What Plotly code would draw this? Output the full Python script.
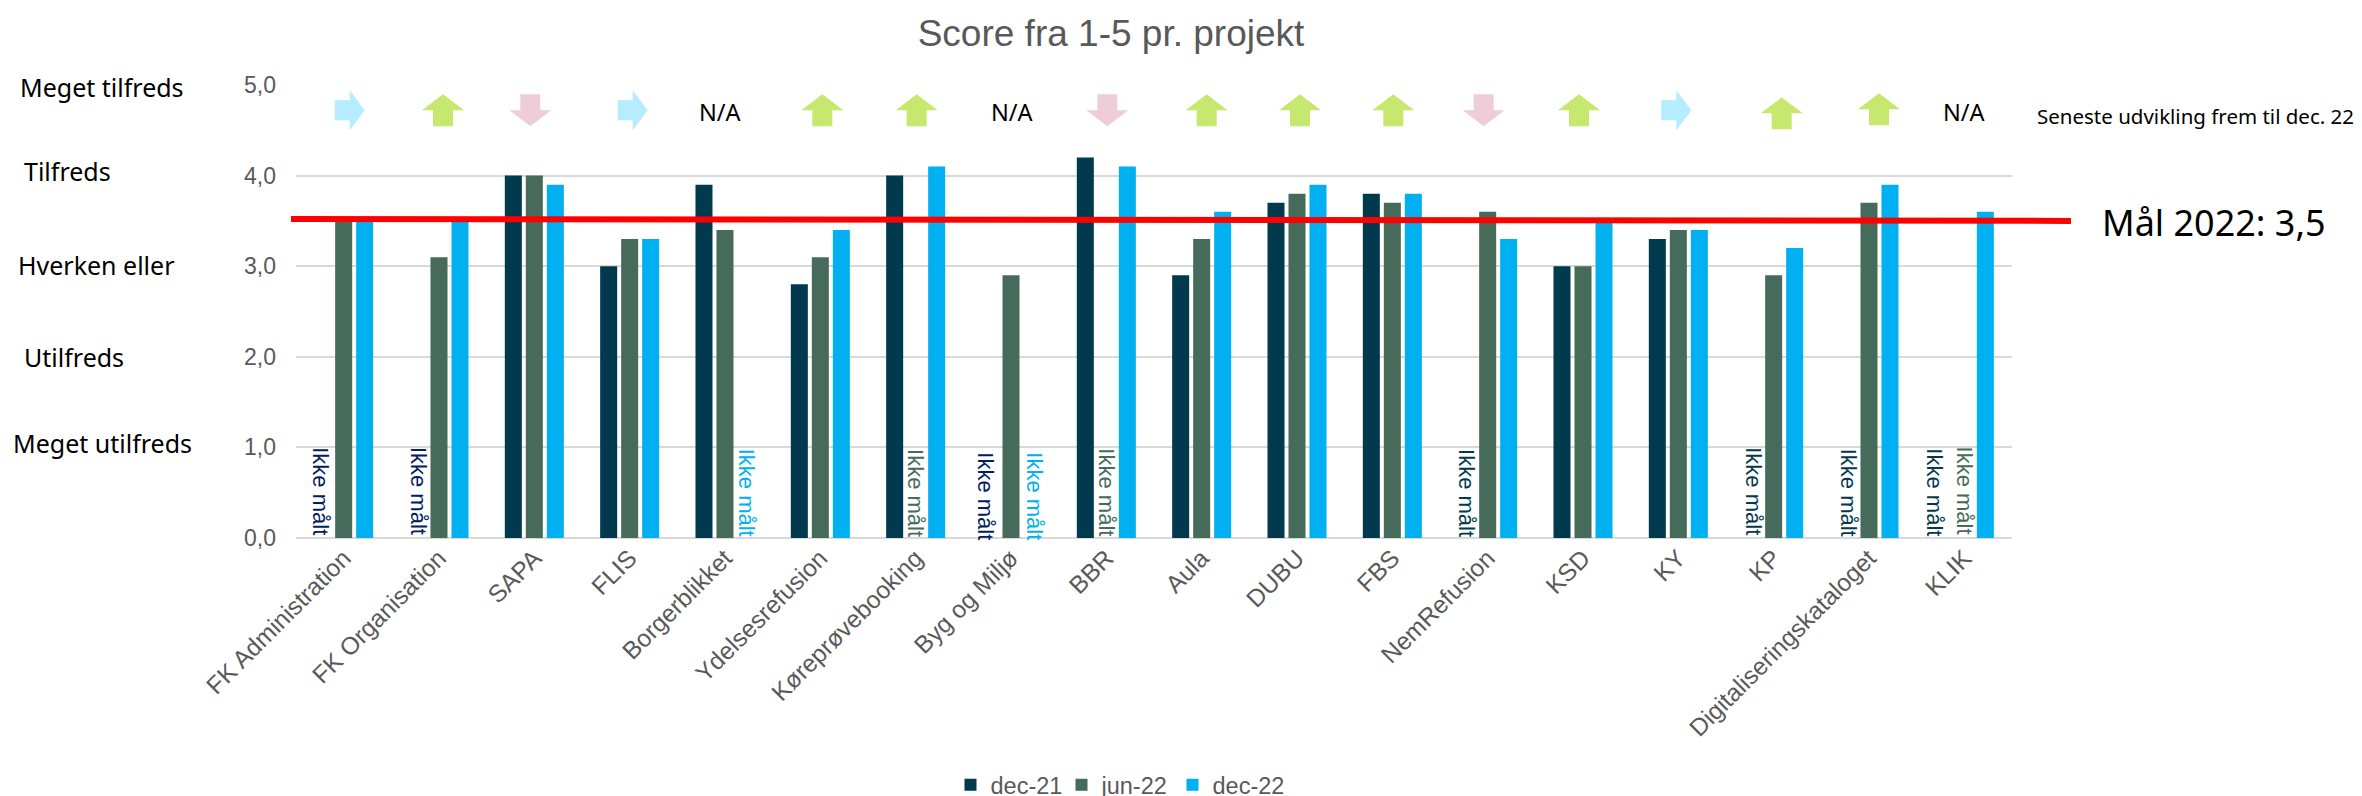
import plotly.graph_objects as go

categories = ["FK Administration", "FK Organisation", "SAPA", "FLIS", "Borgerblikket", "Ydelsesrefusion",
              "Køreprøvebooking", "Byg og Miljø", "BBR", "Aula", "DUBU", "FBS", "NemRefusion", "KSD", "KY", "KP",
              "Digitaliseringskataloget", "KLIK"]
series_names = ["dec-21", "jun-22", "dec-22"]
dec21 = [None, None, 4.0, 3.0, 3.9, 2.8, 4.0, None, 4.2, 2.9, 3.7, 3.8, None, 3.0, 3.3, None, None, None]
jun22 = [3.5, 3.1, 4.0, 3.3, 3.4, 3.1, None, 2.9, None, 3.3, 3.8, 3.7, 3.6, 3.0, 3.4, 2.9, 3.7, None]
dec22 = [3.5, 3.5, 3.9, 3.3, None, 3.4, 4.1, None, 4.1, 3.6, 3.9, 3.8, 3.3, 3.5, 3.4, 3.2, 3.9, 3.6]
trend = ["right", "up", "down", "right", "N/A", "up", "up", "N/A", "down", "up", "up", "up", "down", "up", "right",
         "up", "up", "N/A"]
trend_dx = [6, 4, -4, 3, -5, 2, 1, 1, 1, 5, 3, 1, -4, -4, -2, 8, 10, 0]
trend_dy = [0, 0, 0, 0, 0, 0, 0, 0, 0, 0, 0, 0, 0, 0, 0, -3, 1, 0]
target = 3.5
target_label = "Mål 2022: 3,5"
scale_labels = ["Meget tilfreds", "Tilfreds", "Hverken eller", "Utilfreds", "Meget utilfreds"]
scale_pos = [(18, 87), (22, 171), (16, 265), (22, 357), (11, 443)]
not_measured = [("FK Administration", -1, "#002060", -3, 0.52), ("FK Organisation", -1, "#002060", 0, 0.52),
                ("Borgerblikket", 1, "#00B0F0", 0, 0.5), ("Køreprøvebooking", 0, "#466B5A", 0, 0.5),
                ("Byg og Miljø", -1, "#002060", -4, 0.46), ("Byg og Miljø", 1, "#00B0F0", 3, 0.46),
                ("BBR", 0, "#466B5A", 0, 0.5), ("NemRefusion", -1, "#013A4E", 0, 0.5),
                ("KP", -1, "#013A4E", 0, 0.52), ("Digitaliseringskataloget", -1, "#013A4E", 0, 0.5),
                ("KLIK", -1, "#013A4E", -9, 0.5), ("KLIK", 0, "#466B5A", 0, 0.52)]

W, H = 2362, 796
L, R, T, B = 296, 2012, 85, 538
GREY = "#595959"
COLORS = ["#013A4E", "#466B5A", "#00B0F0"]
TEXT_FONT = "Noto Sans"
ARROWS = {
    "up": ([(0, 16), (21, 0), (10, 0), (10, -16), (-10, -16), (-10, 0), (-21, 0)], "#C6E86E"),
    "down": ([(0, -16), (21, 0), (10, 0), (10, 16), (-10, 16), (-10, 0), (-21, 0)], "#EFCDD8"),
    "right": ([(15, 0), (0, 20), (0, 10), (-15, 10), (-15, -10), (0, -10), (0, -20)], "#B5ECFF"),
}

px = lambda x: (x - L) / (R - L)
py = lambda y: (B - y) / (B - T)

fig = go.Figure()
for name, vals, col in zip(series_names, [dec21, jun22, dec22], COLORS):
    fig.add_trace(go.Bar(name=name, x=categories, y=vals, marker_color=col, marker_line_width=0))

ann = []
for i, (txt, (x, y)) in enumerate(zip(scale_labels, scale_pos)):
    ann.append(dict(text=txt, x=px(x), y=py(y), xref="paper", yref="paper", xanchor="left", yanchor="middle",
                    showarrow=False, font=dict(family=TEXT_FONT, size=25, color="#000000")))
ann.append(dict(text="Seneste udvikling frem til dec. 22", x=px(2035), y=py(116), xref="paper", yref="paper",
                xanchor="left", yanchor="middle", showarrow=False,
                font=dict(family=TEXT_FONT, size=20.5, color="#000000")))
ann.append(dict(text=target_label, x=px(2100), y=py(222), xref="paper", yref="paper", xanchor="left",
                yanchor="middle", showarrow=False, font=dict(family=TEXT_FONT, size=36, color="#000000")))
for cat, slot, col, extra, yv in not_measured:
    ann.append(dict(text="Ikke målt", x=cat, y=yv, xref="x", yref="y", xshift=slot * 21 + extra, textangle=90,
                    showarrow=False, xanchor="center", yanchor="middle",
                    font=dict(family="Liberation Sans", size=22, color=col)))

shapes = []
for cat, t, dx, dy in zip(categories, trend, trend_dx, trend_dy):
    if t == "N/A":
        ann.append(dict(text="N/A", x=cat, y=4.7, xref="x", yref="y", xshift=dx, showarrow=False,
                        font=dict(family=TEXT_FONT, size=23.5, color="#000000")))
    else:
        verts, col = ARROWS[t]
        path = "M" + " L".join(f"{a + dx},{b + dy}" for a, b in verts) + " Z"
        shapes.append(dict(type="path", xref="x", yref="y", xsizemode="pixel", ysizemode="pixel", xanchor=cat,
                           yanchor=4.72, path=path, fillcolor=col, line_width=0, layer="above"))
shapes.append(dict(type="line", xref="paper", yref="y", x0=px(291), x1=px(2071), y0=target + 0.02, y1=target,
                   line=dict(color="#FF0000", width=6), layer="above"))

fig.update_layout(
    width=W, height=H, autosize=False,
    margin=dict(l=L, r=W - R, t=T, b=H - B, autoexpand=False),
    paper_bgcolor="white", plot_bgcolor="white",
    separators=", ",
    barmode="group", bargap=0.339, bargroupgap=0.19,
    title=dict(text="Score fra 1-5 pr. projekt", x=1111 / W, y=1 - 33 / H, xanchor="center", yanchor="middle",
               font=dict(family="Liberation Sans", size=37, color=GREY)),
    xaxis=dict(categoryorder="array", categoryarray=categories, tickangle=-45, showgrid=False, showline=False,
               ticks="", tickfont=dict(family="Liberation Sans", size=24.5, color=GREY)),
    yaxis=dict(range=[0, 5], tick0=0, dtick=1, tickformat=".1f", showgrid=True, gridcolor="#D9D9D9", gridwidth=2,
               zeroline=True, zerolinecolor="#D9D9D9", zerolinewidth=2, showline=False, ticks="",
               ticklabelstandoff=19, tickfont=dict(family="Liberation Sans", size=23, color=GREY)),
    legend=dict(orientation="h", x=1117 / W, y=1 - 785 / H, xref="container", yref="container", xanchor="center",
                yanchor="middle", entrywidth=66, entrywidthmode="pixels",
                font=dict(family="Liberation Sans", size=23.5, color=GREY)),
    annotations=ann, shapes=shapes,
)
fig.write_html("out.html", config=dict(displayModeBar=False), post_script="document.body.style.margin='0';")
